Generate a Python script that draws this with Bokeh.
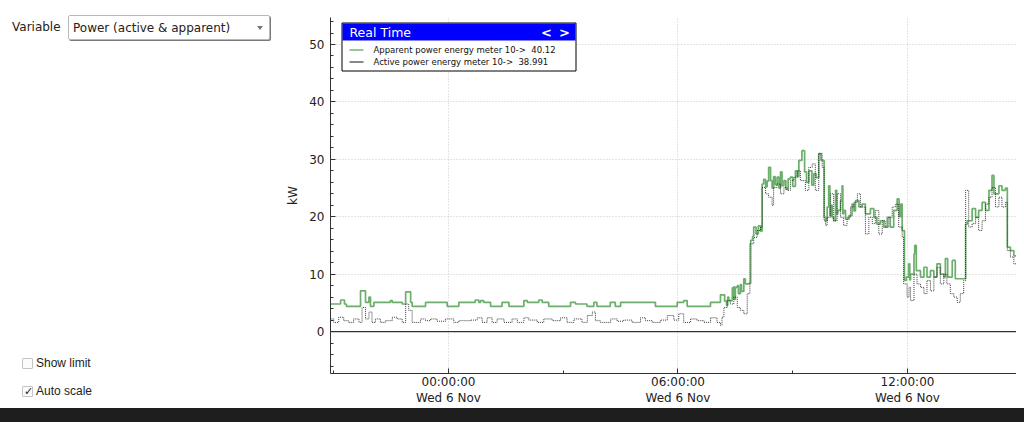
import pandas as pd
from bokeh.plotting import figure
from bokeh.models import (Range1d, FixedTicker, SingleIntervalTicker, CustomJSTickFormatter,
                          Span, BoxAnnotation, Label, Select, Div, Spacer, InlineStyleSheet)
from bokeh.layouts import row, column
from bokeh.embed import file_html
from bokeh.resources import INLINE

try:
    from bokeh.models import Checkbox
except ImportError:
    Checkbox = None

# ---------------- data (hours relative to Wed 6 Nov 2019 00:00, kW) ----------------
apparent_hours = [
    -3.085, -2.82, -2.72, -2.67, -2.30, -2.17, -2.08, -2.04, -1.95, -1.52,
    -1.47, -1.21, -1.12, -0.99, -0.95, -0.60, -0.035, 0.27, 0.70, 0.79,
    0.84, 0.92, 1.10, 1.40, 1.58, 1.97, 2.06, 2.36, 2.45, 2.62,
    3.19, 3.32, 3.62, 3.80, 3.88, 4.23, 4.36, 4.50, 5.41, 5.98,
    6.15, 6.24, 6.85, 7.11, 7.22, 7.27, 7.30, 7.33, 7.42, 7.44,
    7.46, 7.48, 7.50, 7.55, 7.58, 7.63, 7.66, 7.72, 7.76, 7.85,
    7.90, 7.95, 7.98, 8.04, 8.10, 8.16, 8.20, 8.24, 8.29, 8.33,
    8.37, 8.42, 8.46, 8.50, 8.54, 8.59, 8.64, 8.68, 8.72, 8.77,
    8.82, 8.88, 8.94, 9.00, 9.07, 9.12, 9.16, 9.24, 9.31, 9.36,
    9.42, 9.50, 9.55, 9.61, 9.68, 9.74, 9.82, 9.86, 9.90, 9.94,
    9.97, 10.00, 10.03, 10.07, 10.12, 10.15, 10.18, 10.25, 10.29, 10.31,
    10.33, 10.38, 10.47, 10.55, 10.60, 10.64, 10.73, 10.81, 10.90, 11.03,
    11.12, 11.20, 11.29, 11.38, 11.47, 11.55, 11.64, 11.73, 11.78, 11.82,
    11.86, 11.92, 11.97, 12.03, 12.06, 12.08, 12.17, 12.19, 12.23, 12.34,
    12.43, 12.51, 12.60, 12.69, 12.77, 12.86, 12.95, 12.99, 13.05, 13.17,
    13.25, 13.52, 13.56, 13.69, 13.78, 13.86, 13.95, 14.04, 14.13, 14.21,
    14.26, 14.30, 14.39, 14.47, 14.56, 14.61, 14.69, 14.78, 14.95, 15.00,
    15.10,
]
apparent_kw = [
    4.8, 5.5, 4.8, 4.4, 7.1, 5.1, 6.0, 4.4, 5.1, 5.4,
    5.1, 4.8, 6.9, 5.1, 4.4, 5.1, 4.4, 5.1, 5.5, 5.1,
    5.4, 5.1, 4.4, 5.1, 4.4, 5.4, 5.1, 5.5, 5.1, 4.4,
    5.1, 4.8, 4.4, 5.1, 4.4, 5.1, 4.4, 5.1, 4.4, 5.1,
    5.4, 4.4, 5.1, 6.4, 5.3, 4.6, 6.0, 5.4, 7.6, 5.8,
    7.8, 5.6, 7.7, 8.0, 6.6, 8.2, 7.0, 9.2, 8.3, 8.4,
    15.9, 16.6, 18.2, 17.0, 18.4, 17.5, 25.7, 26.5, 25.2, 26.2,
    28.6, 26.3, 25.0, 27.0, 25.6, 26.9, 25.0, 27.8, 25.4, 26.3,
    24.8, 26.6, 26.9, 25.3, 28.0, 27.0, 29.8, 31.5, 27.8, 26.0,
    28.0, 25.5, 27.5, 26.8, 31.0, 29.8, 19.9, 19.3, 21.7, 25.4,
    20.2, 22.0, 19.9, 19.3, 24.6, 20.5, 21.1, 22.8, 25.4, 20.5,
    21.1, 19.6, 20.2, 22.2, 21.0, 22.8, 21.7, 22.2, 20.5, 21.4,
    19.9, 18.7, 19.3, 18.2, 19.9, 18.2, 21.1, 23.1, 20.0, 22.2,
    17.6, 8.9, 9.5, 11.8, 9.0, 10.0, 13.5, 15.0, 10.6, 9.5,
    11.2, 9.5, 10.6, 9.5, 11.8, 10.0, 9.5, 12.7, 9.5, 12.4,
    9.2, 18.7, 19.3, 21.4, 19.9, 21.1, 22.5, 21.1, 24.6, 27.2,
    24.0, 24.0, 25.4, 24.6, 25.0, 14.7, 14.1, 13.2, 14.1, 12.0,
    12.0,
]
active_hours = [
    -3.085, -3.00, -2.87, -2.74, -2.61, -2.48, -2.34, -2.26, -2.17, -2.08,
    -2.00, -1.91, -1.78, -1.65, -1.47, -1.34, -1.21, -1.12, -1.04, -0.95,
    -0.73, -0.60, -0.47, -0.30, -0.08, 0.14, 0.27, 0.58, 0.75, 0.88,
    1.01, 1.14, 1.27, 1.45, 1.66, 1.80, 1.97, 2.10, 2.32, 2.49,
    2.71, 2.93, 3.10, 3.28, 3.49, 3.63, 3.76, 3.84, 3.97, 4.24,
    4.41, 4.58, 4.80, 5.02, 5.15, 5.33, 5.54, 5.72, 5.89, 6.02,
    6.15, 6.33, 6.50, 6.68, 6.85, 7.02, 7.11, 7.15, 7.20, 7.29,
    7.37, 7.46, 7.55, 7.63, 7.72, 7.81, 7.88, 7.98, 8.07, 8.16,
    8.20, 8.29, 8.37, 8.46, 8.50, 8.59, 8.68, 8.77, 8.85, 8.94,
    9.03, 9.12, 9.20, 9.33, 9.42, 9.51, 9.59, 9.68, 9.77, 9.82,
    9.86, 9.90, 9.99, 10.07, 10.16, 10.25, 10.33, 10.42, 10.51, 10.60,
    10.69, 10.77, 10.90, 10.99, 11.08, 11.16, 11.25, 11.34, 11.42, 11.51,
    11.60, 11.69, 11.77, 11.86, 11.90, 11.99, 12.04, 12.08, 12.17, 12.25,
    12.34, 12.43, 12.51, 12.60, 12.69, 12.77, 12.86, 12.95, 13.03, 13.12,
    13.21, 13.30, 13.38, 13.47, 13.52, 13.60, 13.69, 13.78, 13.86, 13.95,
    14.04, 14.13, 14.21, 14.30, 14.39, 14.47, 14.56, 14.61, 14.69, 14.78,
    14.86, 14.95, 15.10,
]
active_kw = [
    2.2, 1.6, 2.5, 1.9, 1.6, 2.2, 1.6, 4.2, 2.2, 3.4,
    1.6, 2.2, 1.6, 1.9, 2.5, 2.2, 1.6, 4.8, 3.7, 1.6,
    2.2, 1.9, 2.2, 1.8, 2.2, 1.6, 1.9, 2.0, 2.4, 1.6,
    2.4, 1.6, 2.2, 1.6, 2.2, 1.6, 2.4, 2.0, 1.6, 2.2,
    1.9, 2.4, 1.6, 2.2, 1.6, 2.8, 3.4, 1.9, 1.6, 2.2,
    1.8, 2.0, 1.6, 2.4, 1.9, 1.6, 2.0, 2.8, 2.0, 3.1,
    1.6, 2.2, 1.9, 1.6, 2.4, 1.6, 1.1, 2.5, 4.2, 5.4,
    4.8, 6.0, 4.2, 3.7, 3.1, 6.6, 15.3, 16.4, 17.6, 18.2,
    25.1, 24.0, 23.4, 22.0, 25.1, 25.7, 24.0, 25.1, 24.6, 26.3,
    26.9, 28.0, 26.3, 24.6, 28.6, 29.2, 24.6, 31.0, 28.6, 19.3,
    18.5, 19.9, 24.0, 19.3, 24.0, 19.9, 18.5, 19.9, 21.7, 22.5,
    24.0, 21.7, 17.0, 19.9, 18.8, 21.1, 17.0, 19.3, 18.2, 19.9,
    21.7, 22.2, 18.2, 16.5, 8.3, 6.0, 7.7, 5.4, 10.0, 8.3,
    7.7, 6.6, 8.9, 7.1, 9.5, 11.2, 8.3, 10.0, 8.3, 6.6,
    6.0, 5.1, 6.6, 8.9, 24.6, 18.2, 18.8, 19.9, 17.6, 19.3,
    22.2, 23.4, 25.1, 21.7, 23.4, 21.7, 22.5, 14.1, 13.0, 11.8,
    11.2, 8.9, 8.9,
]

major_tick_hours = [0, 6, 12]
minor_tick_hours = [-3, 3, 9, 15]
legend_labels = ["Apparent power energy meter 10->", "Active power energy meter 10->"]
legend_values = ["40.12", "38.991"]
legend_colors = ["#2e8b2e", "#111111"]

# ---------------- geometry ----------------
X0, X1 = -3.085, 14.85
Y0, Y1 = -7.3, 54.7
FW, FH = 686, 356
FL, FT = 330, 17          # frame left / top on the page

BASE = pd.Timestamp("2019-11-06 00:00")


def to_ms(hours_list):
    return [(BASE + pd.Timedelta(hours=h)).value / 1e6 for h in hours_list]


def fx(px):
    return to_ms([X0 + (px - FL) / FW * (X1 - X0)])[0]


def fy(py):
    return Y1 - (py - FT) / FH * (Y1 - Y0)


FONT = "DejaVu Sans"

p = figure(x_axis_type="datetime", frame_width=FW, frame_height=FH,
           x_range=Range1d(to_ms([X0])[0], to_ms([X1])[0]),
           y_range=Range1d(Y0, Y1),
           min_border_left=52, min_border_right=0, min_border_top=9, min_border_bottom=0,
           toolbar_location=None, output_backend="svg")
p.outline_line_color = None
p.background_fill_color = "white"

p.xaxis.ticker = FixedTicker(ticks=to_ms(major_tick_hours), minor_ticks=to_ms(minor_tick_hours))
p.xaxis.formatter = CustomJSTickFormatter(code="""
const d = new Date(tick);
const p2 = (n) => (n < 10 ? '0' : '') + n;
const wd = ['Sun','Mon','Tue','Wed','Thu','Fri','Sat'];
const mo = ['Jan','Feb','Mar','Apr','May','Jun','Jul','Aug','Sep','Oct','Nov','Dec'];
return p2(d.getUTCHours()) + ':' + p2(d.getUTCMinutes()) + ':' + p2(d.getUTCSeconds()) + '\\n' +
       wd[d.getUTCDay()] + ' ' + d.getUTCDate() + ' ' + mo[d.getUTCMonth()];
""")
p.yaxis.ticker = SingleIntervalTicker(interval=10, num_minor_ticks=5)
p.yaxis.axis_label = "kW"

for ax in p.axis:
    ax.axis_line_color = "#333333"
    ax.major_tick_line_color = "#333333"
    ax.minor_tick_line_color = "#333333"
    ax.major_tick_in = 5
    ax.major_tick_out = 0
    ax.minor_tick_in = 3
    ax.minor_tick_out = 0
    ax.major_label_text_font = FONT
    ax.major_label_text_font_size = "12px"
    ax.major_label_text_color = "#222222"
    ax.axis_label_text_font = FONT
    ax.axis_label_text_font_size = "12px"
    ax.axis_label_text_font_style = "normal"
    ax.axis_label_text_color = "#222222"
p.yaxis.major_label_standoff = 6
p.yaxis.axis_label_standoff = 6
p.xaxis.major_label_standoff = 1

p.grid.grid_line_color = "#c8c8c8"
p.grid.grid_line_dash = "1 2"
p.grid.grid_line_width = 1

p.add_layout(Span(location=0, dimension="width", line_color="#333333", line_width=1.2))

p.step(to_ms(apparent_hours), apparent_kw, mode="after",
       line_color="#2e8b2e", line_alpha=0.7, line_width=1.7)
p.step(to_ms(active_hours), active_kw, mode="after",
       line_color="#1a1a1a", line_alpha=0.85, line_width=1, line_dash="1 1")

# ---------------- custom legend box ----------------
p.add_layout(BoxAnnotation(left=fx(341.5), right=fx(575.5), top=fy(22.5), bottom=fy(70.5),
                           fill_color="white", fill_alpha=1, line_color="black", line_width=1,
                           line_alpha=1))
p.add_layout(BoxAnnotation(left=fx(342), right=fx(575), top=fy(23), bottom=fy(40),
                           fill_color="#0000ff", fill_alpha=1, line_color=None))
p.add_layout(Label(x=fx(349), y=fy(32), text="Real Time", text_color="white",
                   text_font=FONT, text_font_size="12.5px", text_baseline="middle"))
p.add_layout(Label(x=fx(546), y=fy(32), text="<", text_color="white",
                   text_font=FONT, text_font_size="13px", text_font_style="bold",
                   text_baseline="middle", text_align="center"))
p.add_layout(Label(x=fx(564), y=fy(32), text=">", text_color="white",
                   text_font=FONT, text_font_size="13px", text_font_style="bold",
                   text_baseline="middle", text_align="center"))
for i, (lab, val, col) in enumerate(zip(legend_labels, legend_values, legend_colors)):
    py = 49.5 + i * 12
    p.add_layout(Label(x=fx(373), y=fy(py), text=lab + "\u00a0 " + val, text_color="#111111",
                       text_font=FONT, text_font_size="8.5px", text_baseline="middle"))
    seg = p.segment(x0=[fx(349)], y0=[fy(py)], x1=[fx(363)], y1=[fy(py)],
                    line_color=col, line_width=1)
    seg.level = "overlay"

# ---------------- widgets ----------------
var_div = Div(text="Variable", width=56, height=25, margin=(0, 0, 0, 4),
              styles={"font-family": "DejaVu Sans", "font-size": "12px", "color": "#222",
                      "line-height": "25px"})
sel_css = InlineStyleSheet(css="""
select, .bk-input, select:not([multiple]).bk-input, select:not([size]).bk-input {
  height: 25px !important; min-height: 25px !important; font-size: 12px !important;
  font-family: 'DejaVu Sans' !important;
  padding: 0 4px !important; border: 1px solid #b8b8b8 !important; border-radius: 2px !important;
  color: #222 !important;
  -webkit-appearance: none !important; appearance: none !important;
  background-color: #fff !important;
  background-image: url("data:image/svg+xml;utf8,<svg xmlns='http://www.w3.org/2000/svg' width='6' height='4'><path d='M0 0 L6 0 L3 4 Z' fill='%23777'/></svg>") !important;
  background-size: 6px 4px !important;
  background-repeat: no-repeat !important; background-position: right 6px center !important;
  box-shadow: 1px 1px 0 #7a7a7a !important; }
""")
select = Select(value="Power (active & apparent)", options=["Power (active & apparent)"],
                width=202, height=25, margin=(0, 0, 0, 0), stylesheets=[sel_css])
top_row = row(var_div, select, margin=(7, 0, 0, 0))

cb_css = InlineStyleSheet(css="""
:host, label, span { font-family: 'DejaVu Sans'; font-size: 12px; color: #222; }
label { display: flex; align-items: center; }
input { -webkit-appearance: none; appearance: none; margin: 0 5px 0 0; width: 11px; height: 11px;
  border: 1px solid #c4c4c4; background: #fbfbfb; border-radius: 1px; position: relative; }
input:checked::after { content: '\\2713'; position: absolute; left: 1px; top: -2px;
  font-size: 11px; line-height: 12px; color: #222; }
""")
if Checkbox is not None:
    cb1 = Checkbox(label="Show limit", active=False, height=18, margin=(0, 0, 0, 14),
                   stylesheets=[cb_css])
    cb2 = Checkbox(label="Auto scale", active=True, height=18, margin=(10, 0, 0, 14),
                   stylesheets=[cb_css])
    boxes = [cb1, cb2]
else:
    from bokeh.models import CheckboxGroup
    boxes = [CheckboxGroup(labels=["Show limit", "Auto scale"], active=[1],
                           margin=(0, 0, 0, 14), stylesheets=[cb_css])]

left = column(top_row, Spacer(height=317), *boxes, width=270)

bar_css = InlineStyleSheet(css=""":host { position: fixed !important; left: 0px !important;
  top: 408px !important; width: 1024px !important; height: 14px !important;
  background-color: #1e1e1e; z-index: 10; }""")
bar = Div(text="", width=0, height=0, margin=(0, 0, 0, 0), stylesheets=[bar_css])

layout = column(row(left, p), bar, margin=(8, 0, 0, 8))

open("out.html", "w").write(file_html(layout, INLINE))
